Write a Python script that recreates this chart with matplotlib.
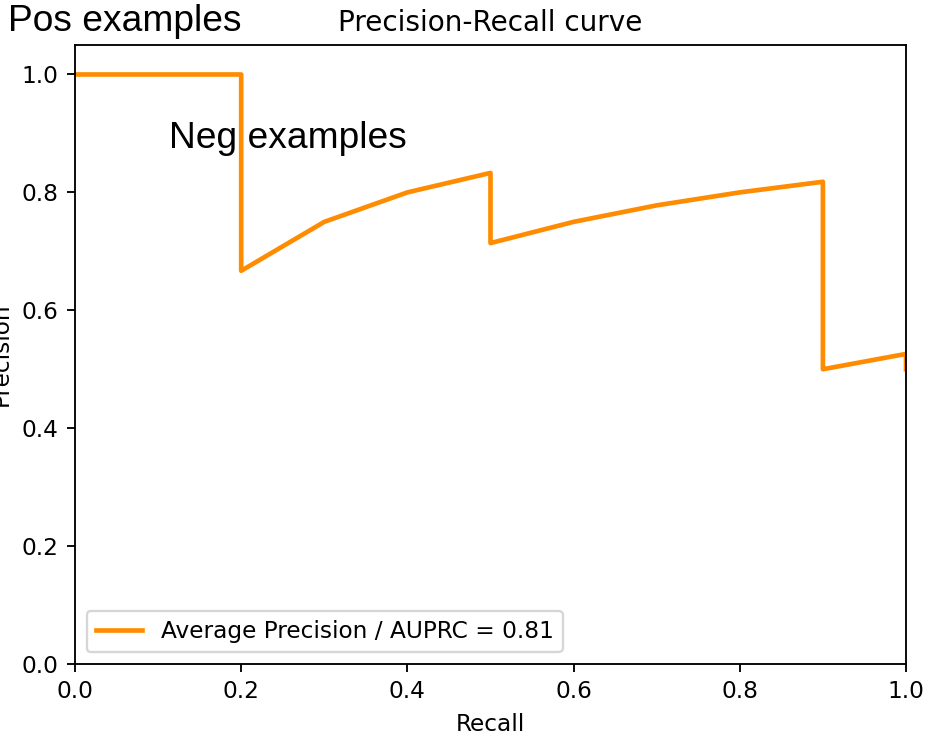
import matplotlib
matplotlib.use('Agg')
import matplotlib.pyplot as plt

# precision-recall points as returned by the curve (recall descending)
recall = [1.0, 1.0, 0.9, 0.9, 0.8, 0.7, 0.6, 0.5, 0.5, 0.4, 0.3, 0.2, 0.2, 0.1, 0.0]
precision = [0.5, 0.526, 0.5, 0.818, 0.8, 0.778, 0.75, 0.714, 0.833, 0.8, 0.75, 0.667, 1.0, 1.0, 1.0]
avg_precision = 0.81

dpi = 167
fig = plt.figure(figsize=(932 / dpi, 735 / dpi), dpi=dpi)
ax = fig.add_axes([75 / 932, 1 - 664 / 735, (906 - 75) / 932, (664 - 45) / 735])

ax.plot(recall, precision, color='darkorange', lw=2,
        label='Average Precision / AUPRC = %0.2f' % avg_precision)
ax.set_xlim([0.0, 1.0])
ax.set_ylim([0.0, 1.05])
ax.set_xlabel('Recall')
ax.set_ylabel('Precision')
ax.set_title('Precision-Recall curve')
ax.legend(loc='lower left')

# slide annotations
fig.text(8 / 932, 1 - 31 / 735, 'Pos examples', family='Liberation Sans', fontsize=16, color='black')
fig.text(169 / 932, 1 - 148 / 735, 'Neg examples', family='Liberation Sans', fontsize=16, color='black')

fig.savefig('out.png', dpi=dpi)
